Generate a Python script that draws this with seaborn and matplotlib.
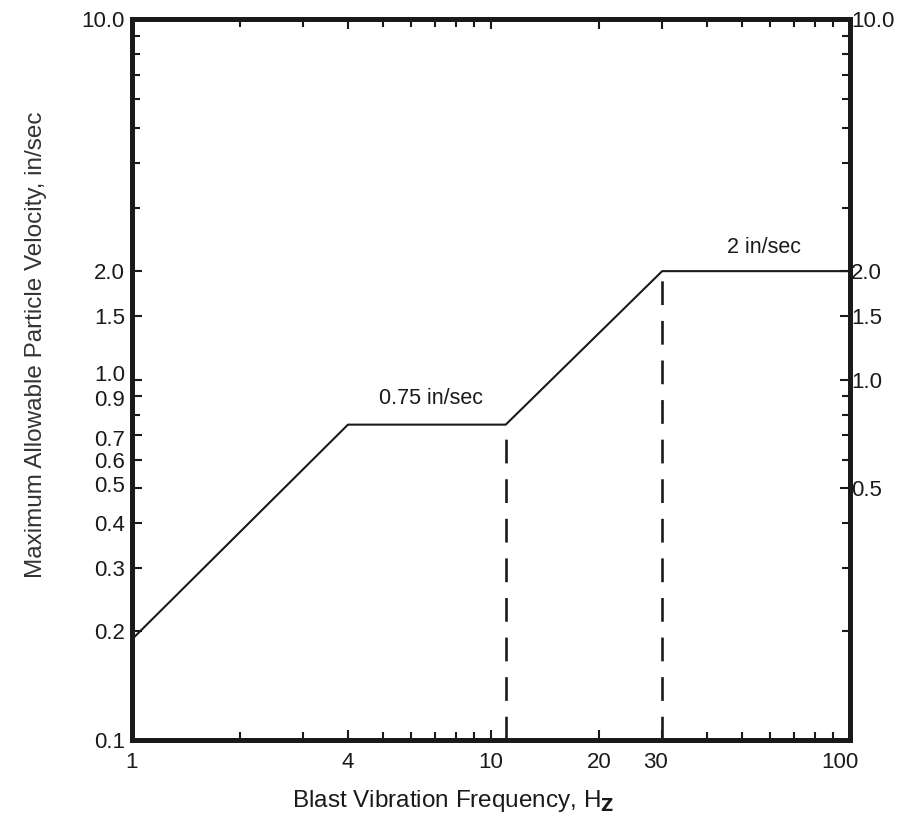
import numpy as np
import pandas as pd
import matplotlib
matplotlib.use('Agg')
import matplotlib.pyplot as plt
from matplotlib.ticker import FixedLocator, FixedFormatter, LogLocator, NullFormatter
from matplotlib.transforms import ScaledTranslation
import seaborn as sns

# curve data (frequency Hz, velocity in/sec)
freq = [1, 4, 11, 30, 100]
velocity = [0.19, 0.75, 0.75, 2.0, 2.0]

# dashed guide lines
guide_x = [11, 30]
guide_top = [0.75, 2.0]

x_ticks = [1, 4, 10, 20, 30, 100]
x_labels = ['1', '4', '10', '20', '30', '100']
left_ticks = [0.1, 0.2, 0.3, 0.4, 0.5, 0.6, 0.7, 0.9, 1.0, 1.5, 2.0, 10.0]
left_labels = ['0.1', '0.2', '0.3', '0.4', '0.5', '0.6', '0.7', '0.9', '1.0', '1.5', '2.0', '10.0']
right_ticks = [0.5, 1.0, 1.5, 2.0, 10.0]
right_labels = ['0.5', '1.0', '1.5', '2.0', '10.0']

sns.set_style('ticks')
plt.rcParams['font.family'] = ['Liberation Sans', 'DejaVu Sans']

df = pd.DataFrame({'freq': freq, 'vel': velocity})

fig = plt.figure(figsize=(9.09, 8.38), dpi=100)
ax = fig.add_axes([0.145, 0.117, 0.79, 0.86])

sns.lineplot(data=df, x='freq', y='vel', color='#1a1a1a', linewidth=1.5, ax=ax)
ax.vlines(guide_x, 0.1, guide_top, colors='#1a1a1a', linestyles=(0, (9, 6)), linewidth=1.9)

ax.set_xscale('log')
ax.set_yscale('log')
ax.set_xlim(1, 100)
ax.set_ylim(0.1, 10)

ax.xaxis.set_major_locator(FixedLocator(x_ticks))
ax.xaxis.set_major_formatter(FixedFormatter(x_labels))
ax.xaxis.set_minor_locator(LogLocator(base=10, subs=np.arange(2, 10)))
ax.xaxis.set_minor_formatter(NullFormatter())
ax.yaxis.set_major_locator(FixedLocator(left_ticks))
ax.yaxis.set_major_formatter(FixedFormatter(left_labels))
ax.yaxis.set_minor_locator(LogLocator(base=10, subs=np.arange(2, 10)))
ax.yaxis.set_minor_formatter(NullFormatter())

ax.tick_params(which='both', direction='in', top=True, width=1.5, colors='#1a1a1a',
               labelsize=16)
ax.tick_params(axis='x', pad=9)
ax.tick_params(axis='y', pad=5)
ax.tick_params(which='major', length=7)
ax.tick_params(which='minor', length=6)

ax2 = ax.twinx()
ax2.set_yscale('log')
ax2.set_ylim(0.1, 10)
ax2.yaxis.set_major_locator(FixedLocator(right_ticks))
ax2.yaxis.set_major_formatter(FixedFormatter(right_labels))
ax2.yaxis.set_minor_locator(LogLocator(base=10, subs=np.arange(2, 10)))
ax2.yaxis.set_minor_formatter(NullFormatter())
ax2.tick_params(which='both', direction='in', width=1.5, colors='#1a1a1a',
                labelsize=16, pad=1)
ax2.tick_params(which='major', length=7)
ax2.tick_params(which='minor', length=6)

for a in (ax, ax2):
    for s in a.spines.values():
        s.set_linewidth(3.5)
        s.set_color('#1a1a1a')

# small nudges of crowded tick labels, as in the original drawing (points)
y_nudge = {'1.0': 4.5, '0.9': -1.5, '0.7': -2, '0.5': 3}
x_nudge = {'30': -5, '100': -7}
for lab in ax.get_yticklabels():
    dy = y_nudge.get(lab.get_text(), 0)
    if dy:
        lab.set_transform(lab.get_transform() + ScaledTranslation(0, dy / 72, fig.dpi_scale_trans))
for lab in ax.get_xticklabels():
    dx = x_nudge.get(lab.get_text(), 0)
    if dx:
        lab.set_transform(lab.get_transform() + ScaledTranslation(dx / 72, 0, fig.dpi_scale_trans))

ax.text(6.8, 0.83, '0.75 in/sec', fontsize=15.5, ha='center', va='bottom', color='#1a1a1a')
ax.text(57.5, 2.17, '2 in/sec', fontsize=15.5, ha='center', va='bottom', color='#1a1a1a')

ax.set_xlabel(r'Blast Vibration Frequency, H$_\mathbf{Z}$', fontsize=17.5, color='#1a1a1a')
ax.set_ylabel('Maximum Allowable Particle Velocity, in/sec', fontsize=17.5, color='#333333')
ax.xaxis.set_label_coords(0.447, -0.067)
ax.yaxis.set_label_coords(-0.118, 0.548)

fig.savefig('out.png', dpi=100)
